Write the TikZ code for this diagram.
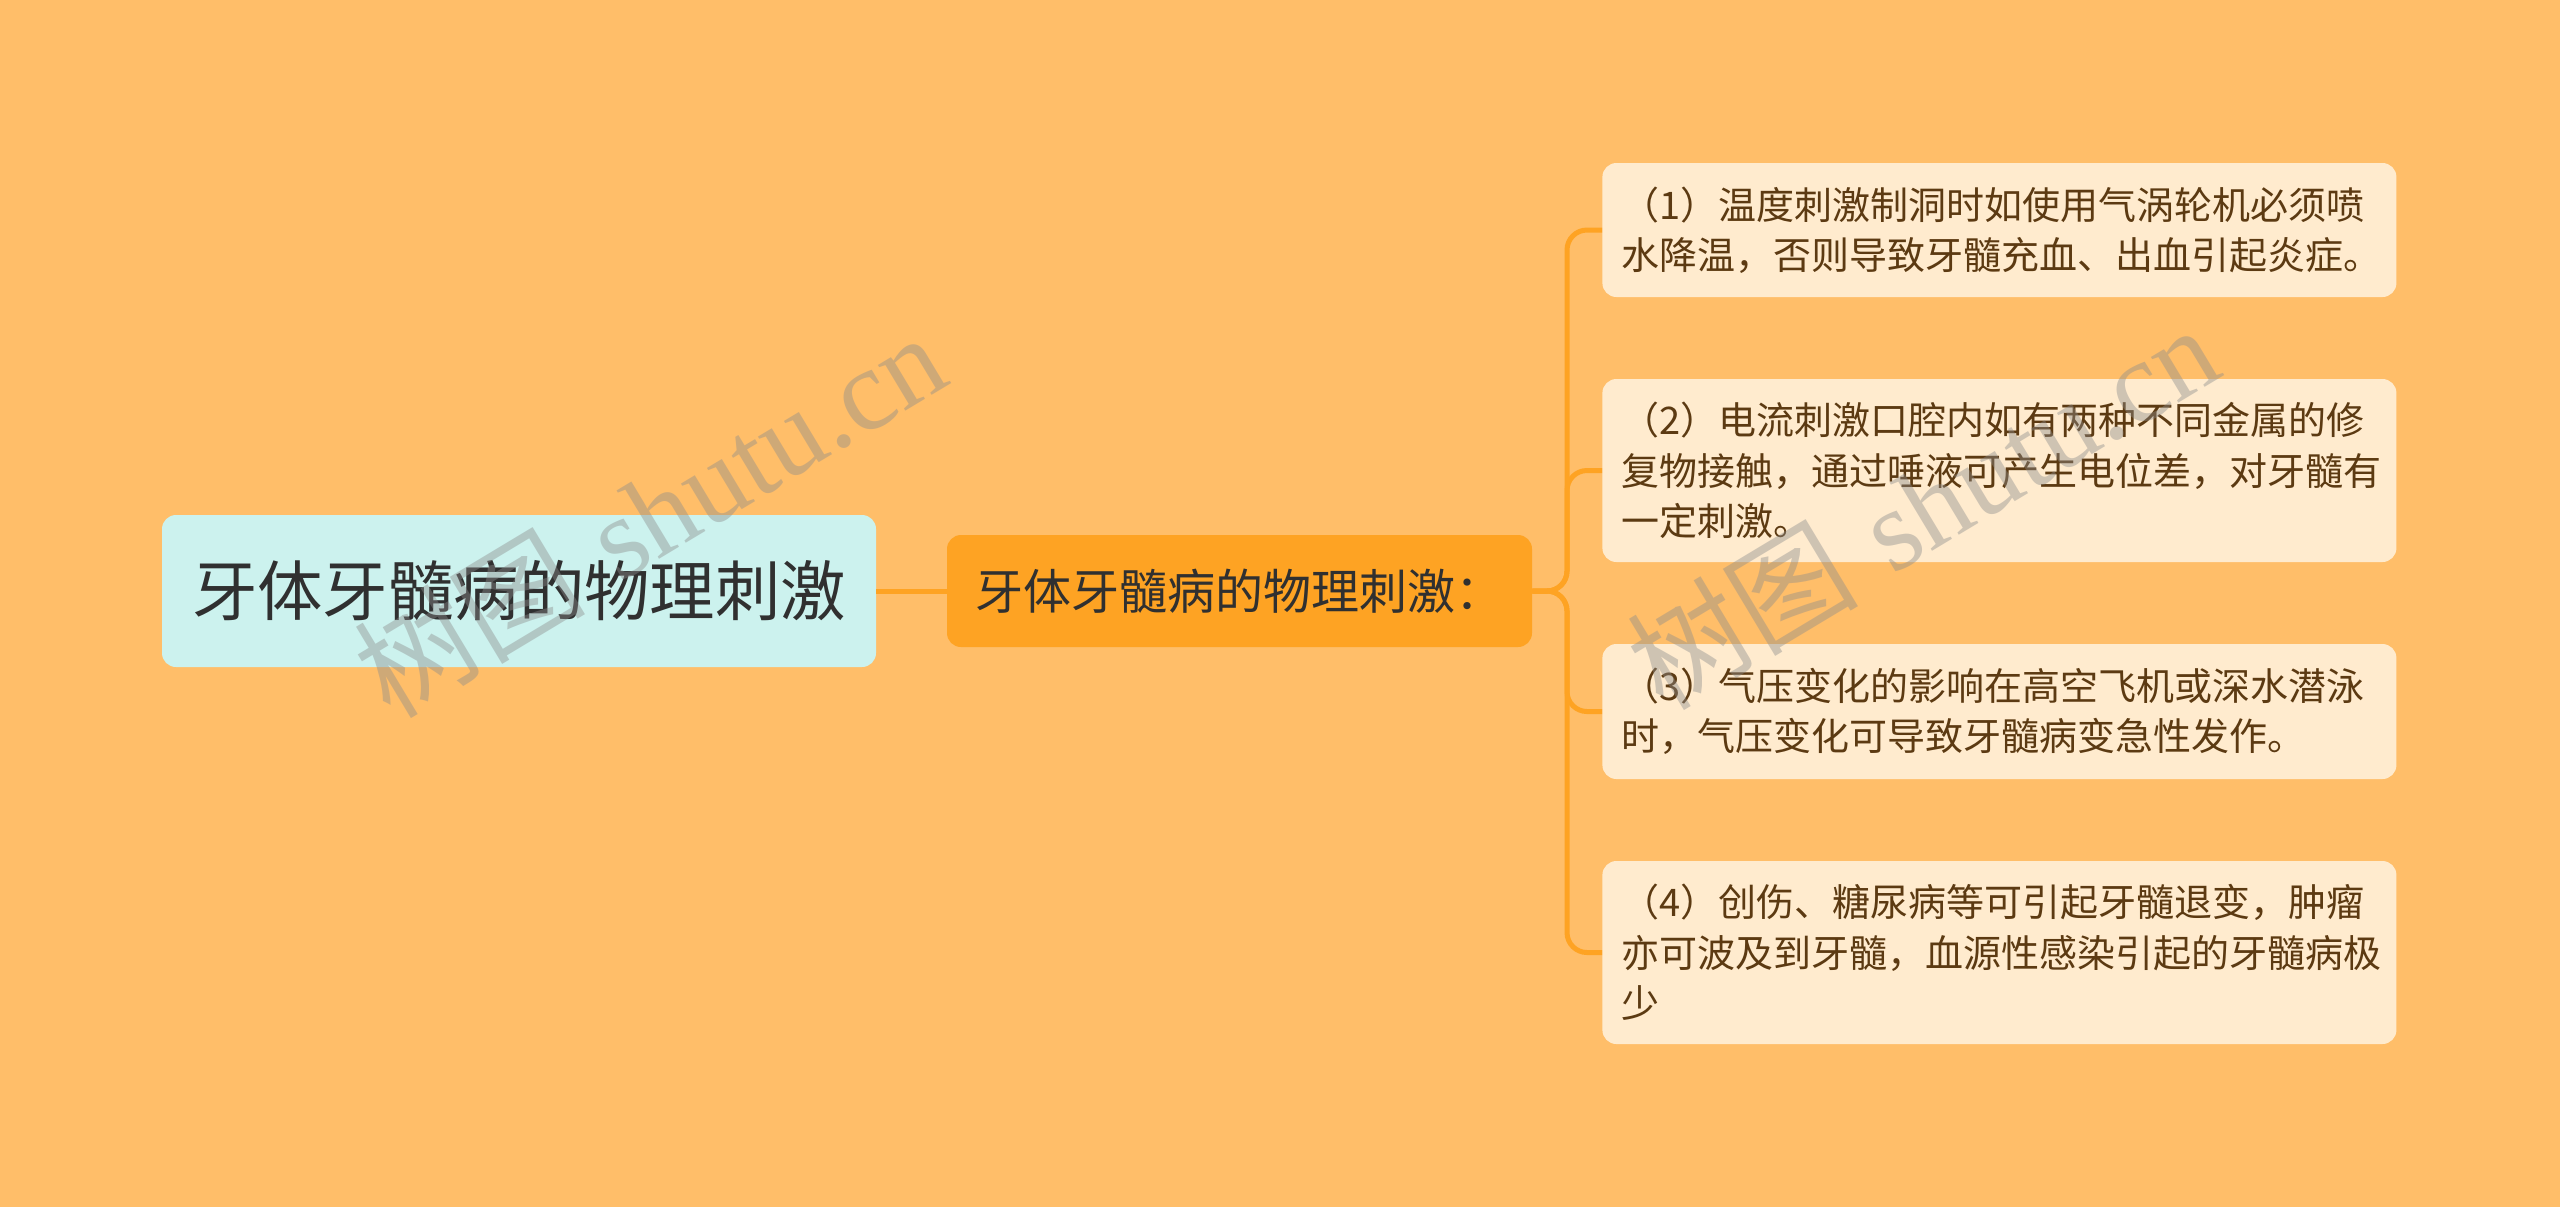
\documentclass[tikz,border=0pt]{standalone}
\usepackage{fontspec}
\newfontfamily\cjk{Noto Sans CJK SC}
\newfontfamily\wmserif{Liberation Serif}
\definecolor{bgc}{RGB}{255,190,105}
\definecolor{rootfill}{RGB}{204,242,238}
\definecolor{midfill}{RGB}{254,163,35}
\definecolor{leaffill}{RGB}{255,235,206}
\definecolor{linec}{RGB}{254,163,35}
\definecolor{darktext}{RGB}{48,48,48}
\definecolor{leaftext}{RGB}{92,58,18}
\definecolor{wmc}{RGB}{140,140,140}
\tikzset{
  rootbox/.style={fill=rootfill, rounded corners=7pt, inner sep=0pt, minimum width=357pt, minimum height=76pt, font=\cjk\fontsize{32.7pt}{40pt}\selectfont, text=darktext},
  midbox/.style={fill=midfill, rounded corners=7pt, inner sep=0pt, minimum width=292.5pt, minimum height=56pt, font=\cjk\fontsize{24pt}{30pt}\selectfont, text=darktext},
  leafbox/.style={fill=leaffill, rounded corners=7pt, anchor=west, inner xsep=9.5pt, inner ysep=0pt, text width=378pt, align=left, font=\cjk\fontsize{19pt}{25.2pt}\selectfont, text=leaftext},
  conn/.style={draw=linec, line width=2.5pt, rounded corners=10pt},
  wmark/.style={text=wmc, opacity=0.42, rotate=31, font=\fontsize{58pt}{66pt}\selectfont}
}
\begin{document}
\begin{tikzpicture}[x=0.5pt,y=-0.5pt]
\fill[bgc] (0,0) rectangle (2560,1207);
\useasboundingbox (0,0) rectangle (2560,1207);
\node[rootbox] (root) at (519,591) {牙体牙髓病的物理刺激};
\node[midbox] (mid) at (1239.5,591) {牙体牙髓病的物理刺激：};
\node[leafbox, minimum height=67pt] (l1) at (1602,230) {（1）温度刺激制洞时如使用气涡轮机必须喷\\水降温，否则导致牙髓充血、出血引起炎症。};
\node[leafbox, minimum height=91.5pt] (l2) at (1602,470.5) {（2）电流刺激口腔内如有两种不同金属的修\\复物接触，通过唾液可产生电位差，对牙髓有\\一定刺激。};
\node[leafbox, minimum height=67.5pt] (l3) at (1602,711.5) {（3）气压变化的影响在高空飞机或深水潜泳\\时，气压变化可导致牙髓病变急性发作。};
\node[leafbox, minimum height=91.5pt] (l4) at (1602,952.5) {（4）创伤、糖尿病等可引起牙髓退变，肿瘤\\亦可波及到牙髓，血源性感染引起的牙髓病极\\少};
\coordinate (jn) at (1567,591);
\draw[conn] (root.east) -- (mid.west);
\foreach \l in {l1,l2,l3,l4}{
  \draw[conn] (mid.east) -- (jn) |- (\l.west);
}
\node[wmark] (wm1) at (649,514) {{\cjk 树图} {\wmserif shutu.cn}};
\node[wmark] (wm2) at (1922,506) {{\cjk 树图} {\wmserif shutu.cn}};
\end{tikzpicture}
\end{document}
